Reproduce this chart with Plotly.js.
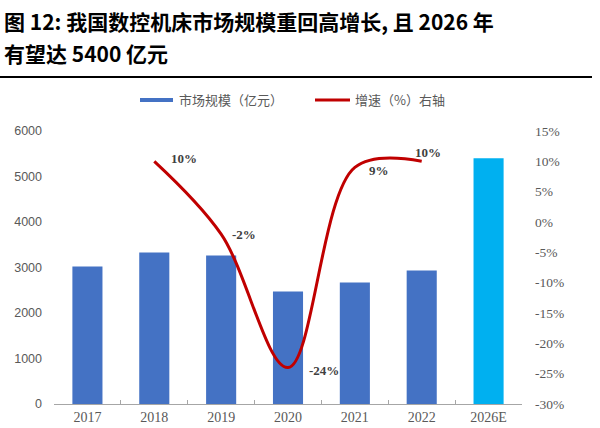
<!DOCTYPE html>
<html><head><meta charset="utf-8">
<script src="https://cdn.plot.ly/plotly-3.0.1.min.js"></script>
<style>html,body{margin:0;padding:0;background:#fff}#chart{width:600px;height:428px}</style>
</head><body><div id="chart"></div>
<script>
const categories = ['2017','2018','2019','2020','2021','2022','2026E'];
const marketSize = [3020, 3330, 3265, 2470, 2670, 2935, 5400];
const barColors = ['#4472C4','#4472C4','#4472C4','#4472C4','#4472C4','#4472C4','#00B0F0'];
const growth = [null, 10, -2, -24, 9, 10, null];
const growthLabels = [null, '10%', '-2%', '-24%', '9%', '10%', null];
const labelShiftX = [0, 30, 23, 36, 24, 6, 0];
const labelShiftY = [0, 3, 0, -3, -3, 9, 0];
const leftTicks = [0,1000,2000,3000,4000,5000,6000];
const rightTicks = [-30,-25,-20,-15,-10,-5,0,5,10,15];
const titleLines = ['图 12: 我国数控机床市场规模重回高增长, 且 2026 年', '有望达 5400 亿元'];
const seriesNames = ['市场规模（亿元）', '增速（%）右轴'];

const traces = [
  {type:'bar', x:categories, y:marketSize, name:seriesNames[0],
   marker:{color:barColors}, width:0.45, hoverinfo:'skip', showlegend:false},
  {type:'scatter', mode:'lines', x:categories, y:growth, yaxis:'y2',
   name:seriesNames[1], line:{color:'#C00000', width:3, shape:'spline', smoothing:1},
   connectgaps:false, hoverinfo:'skip', showlegend:false}
];

const W = 468, H = 273, L = 54, T = 131;
const px = v => (v - L) / W;
const py = v => (T + H - v) / H;

const annotations = [];
categories.forEach((c,i)=>{
  if (growthLabels[i] !== null) {
    annotations.push({x:i, y:growth[i], xref:'x', yref:'y2', text:growthLabels[i],
      showarrow:false, xshift:labelShiftX[i], yshift:labelShiftY[i],
      font:{family:'Liberation Serif', size:13, color:'#404040', weight:'bold'}});
  }
});
titleLines.forEach((t,i)=>{
  annotations.push({x:px(2), y:py(i===0 ? 21 : 53), xref:'paper', yref:'paper', xanchor:'left', yanchor:'middle',
    text:'<b>'+t+'</b>', showarrow:false, font:{family:'Noto Sans CJK SC', size:21, color:'#000'}});
});
// legend texts
annotations.push({x:px(177), y:py(100), xref:'paper', yref:'paper', xanchor:'left', yanchor:'middle',
  text:seriesNames[0], showarrow:false, font:{family:'Noto Sans CJK SC', size:13, color:'#595959'}});
annotations.push({x:px(353), y:py(100), xref:'paper', yref:'paper', xanchor:'left', yanchor:'middle',
  text:seriesNames[1], showarrow:false, font:{family:'Noto Sans CJK SC', size:13, color:'#595959'}});

const layout = {
  width:600, height:428,
  margin:{l:54, r:78, t:131, b:24},
  paper_bgcolor:'#fff', plot_bgcolor:'#fff',
  font:{family:'Liberation Serif', color:'#595959'},
  showlegend:false,
  xaxis:{type:'category', range:[-0.5, 6.5], showgrid:false, showline:true, linecolor:'#A6A6A6', linewidth:1,
    ticks:'inside', tickson:'boundaries', ticklen:4, tickcolor:'#A6A6A6',
    tickfont:{family:'Liberation Serif', size:14, color:'#595959'}},
  yaxis:{range:[0,6000], tickvals:leftTicks, showgrid:false, zeroline:false, showline:false,
    tickfont:{family:'Liberation Sans', size:12.5, color:'#595959'}, ticklabelstandoff:11},
  yaxis2:{overlaying:'y', side:'right', range:[-30,15], tickvals:rightTicks,
    ticktext:rightTicks.map(v=>v+'%'), showgrid:false, zeroline:false, showline:false,
    tickfont:{family:'Liberation Serif', size:13.5, color:'#595959'}, ticklabelstandoff:12},
  shapes:[
    {type:'line', xref:'paper', yref:'paper', x0:px(0), x1:px(592), y0:py(77), y1:py(77),
      line:{color:'#000', width:2}},
    {type:'rect', xref:'paper', yref:'paper', x0:px(140), x1:px(173), y0:py(98), y1:py(102),
      fillcolor:'#4472C4', line:{width:0}},
    {type:'line', xref:'paper', yref:'paper', x0:px(315), x1:px(350), y0:py(100), y1:py(100),
      line:{color:'#C00000', width:3}}
  ],
  annotations:annotations
};

Plotly.newPlot('chart', traces, layout, {displayModeBar:false, staticPlot:true});
</script></body></html>
